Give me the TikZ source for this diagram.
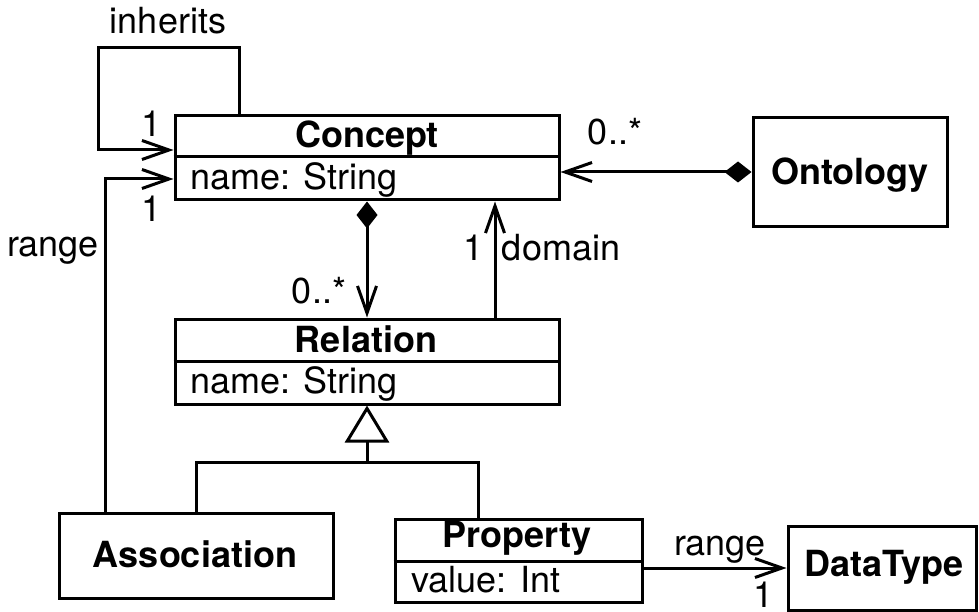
\documentclass[tikz,border=0pt]{standalone}
\usepackage{fontspec}
\setmainfont{TeX Gyre Heros}
\usetikzlibrary{arrows.meta}
\begin{document}
\begin{tikzpicture}[x=1pt,y=-1pt,line width=3pt,line join=miter,
  box/.style={draw,line width=3pt,inner sep=0pt,fill=white},
  ttl/.style={font=\fontsize{36}{40}\selectfont\bfseries,inner sep=0pt,anchor=base},
  attr/.style={font=\fontsize{36}{40}\selectfont,inner sep=0pt,anchor=base west},
  lbl/.style={font=\fontsize{36}{40}\selectfont,inner sep=0pt,anchor=base},
  assoc/.style={-{Straight Barb[length=27pt,width=19pt]}},
  comp/.style={{Diamond[length=27pt,width=21pt]}-{Straight Barb[length=27pt,width=19pt]}},
  gen/.style={-{Triangle[open,length=37pt,width=44pt]}}
]
\useasboundingbox (0,0) rectangle (979,612);

% classes
\node[box,minimum width=384pt,minimum height=84pt] (concept) at (367,158) {};
\node[box,minimum width=194pt,minimum height=109pt] (ontology) at (850,172.5) {};
\node[box,minimum width=384pt,minimum height=85pt] (relation) at (367,361.5) {};
\node[box,minimum width=274pt,minimum height=85pt] (association) at (196,555.5) {};
\node[box,minimum width=247pt,minimum height=83pt] (property) at (518.5,560.5) {};
\node[box,minimum width=188pt,minimum height=84pt] (datatype) at (882,568) {};

% compartment dividers
\coordinate (cdiv) at (0,157);
\coordinate (rdiv) at (0,361);
\coordinate (pdiv) at (0,561);
\draw (concept.west |- cdiv) -- (concept.east |- cdiv);
\draw (relation.west |- rdiv) -- (relation.east |- rdiv);
\draw (property.west |- pdiv) -- (property.east |- pdiv);

% class texts
\node[ttl] (conceptT) at (367,148) {Concept};
\node[attr] (conceptA) at (189,190) {name: String};
\node[ttl] (ontologyT) at (850,185) {Ontology};
\node[ttl] (relationT) at (366,352) {Relation};
\node[attr] (relationA) at (189,393) {name: String};
\node[ttl] (associationT) at (195,567) {Association};
\node[ttl] (propertyT) at (517,547) {Property};
\node[attr] (propertyA) at (410,592) {value: Int};
\node[ttl] (datatypeT) at (884,576) {DataType};

% helper coordinates
\coordinate (xinh) at (239,0);
\coordinate (inhTL) at (98,48);
\coordinate (yinh) at (0,150);
\coordinate (xrng) at (105,0);
\coordinate (yrng) at (0,179);
\coordinate (xmid) at (367,0);
\coordinate (xdom) at (495,0);
\coordinate (yont) at (0,172);
\coordinate (gj) at (367,462);
\coordinate (xga) at (196,0);
\coordinate (xgp) at (478,0);
\coordinate (ydt) at (0,568);

% inherits (self association)
\draw[assoc] (concept.north -| xinh) |- (inhTL) |- (concept.west |- yinh);
% range from Association
\draw[assoc] (association.north -| xrng) |- (concept.west |- yrng);
% composition Concept -> Relation
\draw[comp] (concept.south -| xmid) -- (relation.north -| xmid);
% domain
\draw[assoc] (relation.north -| xdom) -- (concept.south -| xdom);
% composition Ontology -> Concept
\draw[comp] (ontology.west |- yont) -- (concept.east |- yont);
% generalization
\draw (association.north -| xga) |- (gj) -| (property.north -| xgp);
\draw[gen] (gj) -- (relation.south -| gj);
% range Property -> DataType
\draw[assoc] (property.east |- ydt) -- (datatype.west |- ydt);

% labels
\node[lbl] (linh) at (168,34) {inherits};
\node[lbl] (m1) at (152,137) {1};
\node[lbl] (m2) at (152,222) {1};
\node[lbl] (lrng) at (53,256) {range};
\node[lbl] (m3) at (319,303) {0..*};
\node[lbl] (m4) at (474,260) {1};
\node[lbl] (ldom) at (561,260) {domain};
\node[lbl] (m5) at (615,145) {0..*};
\node[lbl] (lrng2) at (720,555) {range};
\node[lbl] (m6) at (763,607) {1};
\end{tikzpicture}
\end{document}
